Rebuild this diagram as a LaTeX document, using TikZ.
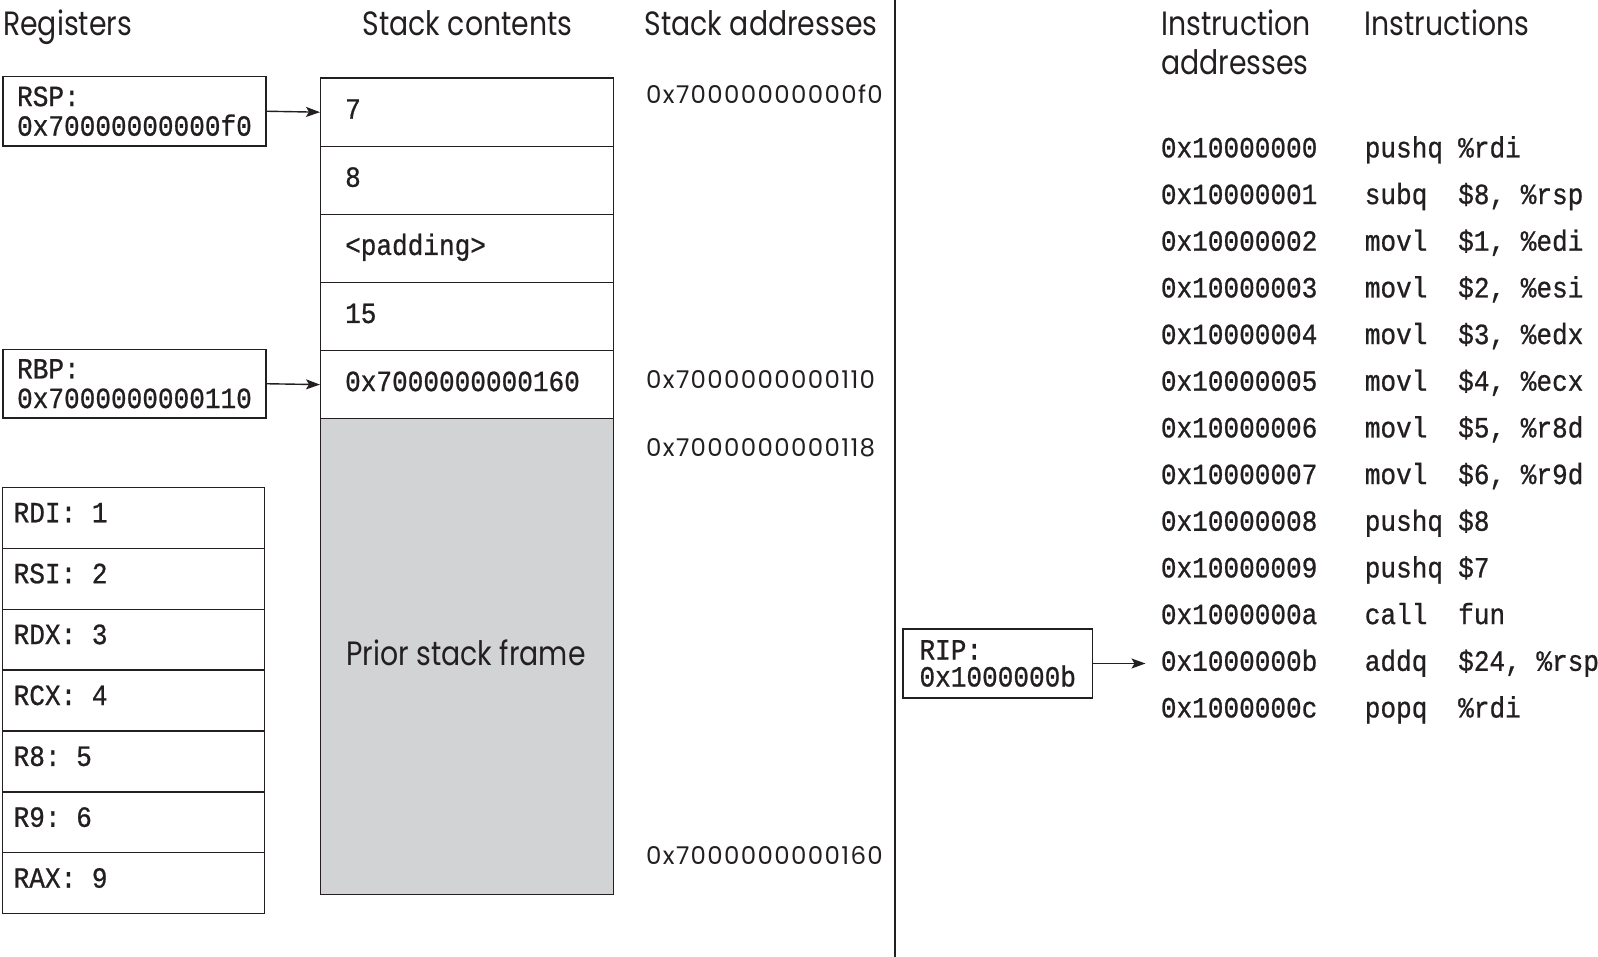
\documentclass[tikz,border=0pt]{standalone}
\usepackage{fontspec}
\usetikzlibrary{arrows.meta}

% Geometric sans for headings and the stack address column, condensed mono for code
\newfontfamily\headfont{Poppins}[FakeStretch=0.84]
\newfontfamily\hexfont{Poppins}[LetterSpace=5.5]
\newfontfamily\codefont{Liberation Mono}[FakeStretch=0.89, FakeBold=0.8]
% one character cell of the code font, used for blanks
\newcommand\codesp{\hspace{15.65pt}}

\definecolor{ink}{HTML}{231F20}
\definecolor{priorgray}{HTML}{D1D3D4}

\tikzset{
  heading/.style={font=\headfont\fontsize{33.7}{39}\selectfont, text=ink, inner sep=0pt},
  hexaddr/.style={font=\hexfont\fontsize{24.5}{28}\selectfont, text=ink, inner sep=0pt, anchor=base west},
  code/.style={font=\codefont\fontsize{29.3}{29.6}\selectfont, text=ink},
  codetext/.style={code, inner sep=0pt, anchor=base west},
  cell/.style={draw=ink, line width=1.3pt, rectangle, code, minimum width=292.5pt,
    minimum height=68.1pt, text width=243.5pt, align=left, inner xsep=24.5pt,
    inner ysep=0pt, text height=13pt, text depth=0pt, anchor=north west},
  regbox/.style={draw=ink, line width=1.3pt, rectangle, code, align=left, inner sep=0pt},
  regrow/.style={draw=ink, line width=1.3pt, rectangle, code, text width=239.5pt,
    align=left, inner xsep=11.5pt, inner ysep=0pt, minimum height=60.9pt,
    text height=9pt, text depth=0pt, anchor=north west},
  pointer/.style={draw=ink, line width=1.4pt, -{Stealth[length=14pt,width=10pt,inset=3pt]}},
}

\begin{document}
\begin{tikzpicture}[x=1pt, y=-1pt]
\useasboundingbox (0,0) rectangle (1598,957);

% column headings
\node[heading, anchor=base west] (hreg) at (3,36) {Registers};
\node[heading, anchor=base] (hstack) at (467.5,36) {Stack contents};
\node[heading, anchor=base] (hsaddr) at (761,36) {Stack addresses};
\node[heading, anchor=base west] (hiaddr1) at (1161,36) {Instruction};
\node[heading, anchor=base west] (hiaddr2) at (1161,75) {addresses};
\node[heading, anchor=base west] (hinstr) at (1364.5,36) {Instructions};

% divider between stack and code halves
\draw[ink, line width=2pt] (895,0) -- (895,957);

% pointer registers
\node[regbox, minimum width=263pt, minimum height=69.5pt, font=\codefont\fontsize{29.3}{29.6}\selectfont]
  (rsp) at (134.5,111.25) {RSP:\\0x70000000000f0};
\node[regbox, minimum width=263pt, minimum height=68.5pt, font=\codefont\fontsize{29.3}{29.6}\selectfont]
  (rbp) at (134.5,383.75) {RBP:\\0x7000000000110};

% stack cells
\node[cell] (c0) at (320,77.5) {7};
\node[cell] (c1) at (320,145.6) {8};
\node[cell] (c2) at (320,213.7) {<padding>};
\node[cell] (c3) at (320,281.8) {15};
\node[cell] (c4) at (320,349.9) {0x7000000000160};
\node[draw=ink, line width=1.3pt, fill=priorgray, rectangle, minimum width=292.5pt,
  minimum height=476pt, anchor=north west, inner sep=0pt] (prior) at (320,418) {};
\node[heading, anchor=base] (priortext) at (466,665) {Prior stack frame};

% stack addresses
\node[hexaddr] (sa0) at (646,103.2) {0x70000000000f0};
\node[hexaddr] (sa1) at (646,388.4) {0x7000000000110};
\node[hexaddr] (sa2) at (646,456.8) {0x7000000000118};
\node[hexaddr] (sa3) at (646,864.4) {0x7000000000160};

% argument registers
\foreach \k/\reg/\val in {0/RDI/1, 1/RSI/2, 2/RDX/3, 3/RCX/4, 4/R8/5, 5/R9/6, 6/RAX/9}{
  \node[regrow] (r\k) at (1.5,{486.7+60.9*\k}) {\reg:\codesp\val};
}

% pointer arrows into the stack
\draw[pointer] (rsp.east) -- (c0.west);
\draw[pointer] (rbp.east) -- (c4.west);

% instruction listing
\foreach \i/\ad/\mn/\op in {
  0/0x10000000/pushq/\%rdi,
  1/0x10000001/subq/{\$8,\codesp\%rsp},
  2/0x10000002/movl/{\$1,\codesp\%edi},
  3/0x10000003/movl/{\$2,\codesp\%esi},
  4/0x10000004/movl/{\$3,\codesp\%edx},
  5/0x10000005/movl/{\$4,\codesp\%ecx},
  6/0x10000006/movl/{\$5,\codesp\%r8d},
  7/0x10000007/movl/{\$6,\codesp\%r9d},
  8/0x10000008/pushq/\$8,
  9/0x10000009/pushq/\$7,
  10/0x1000000a/call/fun,
  11/0x1000000b/addq/{\$24,\codesp\%rsp},
  12/0x1000000c/popq/\%rdi}{
  \node[codetext] (ia\i) at (1160.7,{157.4+46.67*\i}) {\ad};
  \node[codetext] (im\i) at (1364.6,{157.4+46.67*\i}) {\mn};
  \node[codetext] (io\i) at (1458,{157.4+46.67*\i}) {\op};
}

% instruction pointer
\node[regbox, minimum width=189.5pt, minimum height=69pt, font=\codefont\fontsize{29.3}{27}\selectfont]
  (rip) at (997.75,663.5) {RIP:\\0x1000000b};
\coordinate (ripend) at (1145.5,663.5);
\draw[pointer] (rip.east) -- (ripend);

\end{tikzpicture}
\end{document}
